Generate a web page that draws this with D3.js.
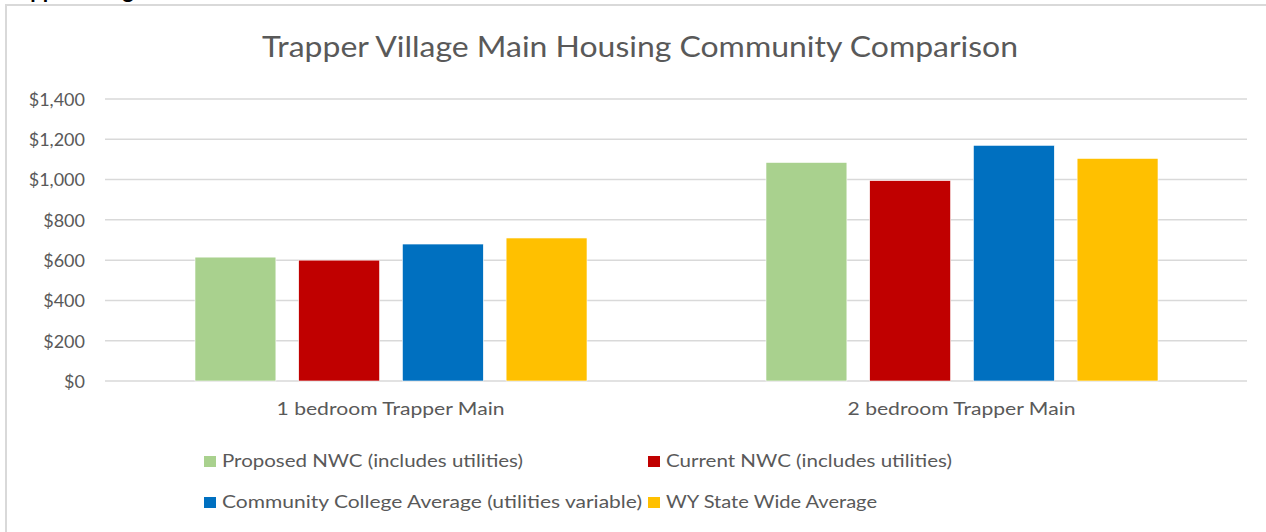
<!DOCTYPE html>
<html><head><meta charset="utf-8">
<script src="https://cdn.jsdelivr.net/npm/d3@7"></script>
<style>body{margin:0;background:#fff}svg{display:block}</style>
</head><body>
<svg id="c" width="1266" height="532"></svg>
<script>
const title = "Trapper Village Main Housing Community Comparison";
const categories = ["1 bedroom Trapper Main", "2 bedroom Trapper Main"];
const seriesNames = ["Proposed NWC (includes utilities)", "Current NWC (includes utilities)", "Community College Average (utilities variable)", "WY State Wide Average"];
const proposedNWC = [615, 1085];
const currentNWC = [600, 995];
const communityCollegeAvg = [680, 1170];
const wyStateAvg = [710, 1105];
const yTicks = [0, 200, 400, 600, 800, 1000, 1200, 1400];
const colors = ["#A9D18E", "#C00000", "#0070C0", "#FFC000"];

(function () {
const seriesValues = [proposedNWC, currentNWC, communityCollegeAvg, wyStateAvg];
const svg = d3.select("#c");
const font = "Lato, 'Open Sans', sans-serif";
const txt = "#595959";

// clipped heading from the document above the chart
svg.append("text").attr("x", 0).attr("y", -2).attr("font-family", font)
  .attr("font-weight", "bold").attr("font-size", 22).attr("fill", "#000").text("Trapper Village");

// chart border
svg.append("path").attr("d", "M6,540V5H1270").attr("fill", "none").attr("stroke", "#D9D9D9").attr("stroke-width", 2);

svg.append("text").attr("x", 262).attr("y", 57).attr("font-family", font).attr("font-size", 29)
  .attr("fill", txt).attr("textLength", 756).attr("lengthAdjust", "spacingAndGlyphs").text(title);

const pl = 105, pr = 1247, pt = 99, pb = 381;
const y = d3.scaleLinear().domain([0, 1400]).range([pb, pt]);
const x0 = d3.scaleBand().domain(categories).range([pl, pr]).padding(0);
const groupStart = 90, groupEnd = 482;
const x1 = d3.scaleBand().domain(d3.range(seriesNames.length)).range([groupStart, groupEnd]).paddingInner(0.22).paddingOuter(0);

// gridlines
svg.append("g").selectAll("line").data(yTicks).join("line")
  .attr("x1", pl).attr("x2", pr).attr("y1", d => y(d)).attr("y2", d => y(d))
  .attr("stroke", "#D9D9D9").attr("stroke-width", 1.5);

// y axis labels
const yAxis = d3.axisLeft(y).tickValues(yTicks).tickSize(0).tickPadding(0)
  .tickFormat(d => "$" + d3.format(",")(d));
const ga = svg.append("g").attr("transform", `translate(85,0)`).call(yAxis);
ga.select(".domain").remove();
ga.selectAll("text").attr("font-family", font).attr("font-size", 18).attr("fill", txt).attr("dy", "0.35em");

// bars
const data = [];
categories.forEach((c, ci) => seriesValues.forEach((s, si) => data.push({c, si, v: s[ci]})));
svg.append("g").selectAll("rect").data(data).join("rect")
  .attr("x", d => x0(d.c) + x1(d.si)).attr("width", x1.bandwidth())
  .attr("y", d => y(d.v)).attr("height", d => y(0) - y(d.v))
  .attr("fill", d => colors[d.si]).attr("stroke", "#fff").attr("stroke-width", 0.6);

// x axis labels
const xAxis = d3.axisBottom(x0).tickSize(0).tickPadding(0);
const gx = svg.append("g").attr("transform", `translate(0,415)`).call(xAxis);
gx.select(".domain").remove();
gx.selectAll("text").attr("font-family", font).attr("font-size", 18).attr("fill", txt).attr("dy", 0)
  .attr("textLength", 228).attr("lengthAdjust", "spacingAndGlyphs");

// legend
const legendPos = [[204, 456], [648, 456], [204, 497], [648, 497]];
const legendLen = [301, 286, 420, 211];
const lg = svg.append("g").selectAll("g").data(seriesNames).join("g")
  .attr("transform", (d, i) => `translate(${legendPos[i][0]},${legendPos[i][1]})`);
lg.append("rect").attr("width", 12).attr("height", 11).attr("fill", (d, i) => colors[i]);
lg.append("text").attr("x", 18).attr("y", 11).attr("font-family", font).attr("font-size", 18)
  .attr("fill", txt).attr("textLength", (d, i) => legendLen[i]).attr("lengthAdjust", "spacingAndGlyphs").text(d => d);
})();
</script>
</body></html>
